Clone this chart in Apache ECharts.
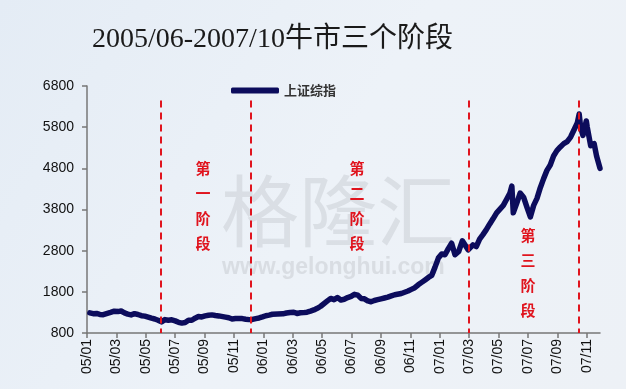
<!DOCTYPE html>
<html>
<head>
<meta charset="utf-8">
<script src="https://cdn.jsdelivr.net/npm/echarts@6/dist/echarts.min.js"></script>
<style>
html,body{margin:0;padding:0;}
#chart{width:626px;height:389px;}
</style>
</head>
<body>
<div id="chart"></div>
<script>
// ---- data ----
const titleText = '2005/06-2007/10牛市三个阶段';
const seriesName = '上证综指';
const monthTickLabels = ['05/01','05/03','05/05','05/07','05/09','05/11','06/01','06/03','06/05','06/07','06/09','06/11','07/01','07/03','07/05','07/07','07/09','07/11'];
const yMin = 800, yMax = 6800, yStep = 1000;
const phaseBoundaries = ['2005-06-01','2005-12-06','2007-03-01','2007-10-16'];
const phaseNames = ['第一阶段','第二阶段','第三阶段'];

const tradeDates = [
 '2005-01-07','2005-01-14','2005-01-21','2005-01-28','2005-02-04','2005-02-18','2005-02-25','2005-03-04','2005-03-11','2005-03-18','2005-03-25','2005-04-01','2005-04-08','2005-04-15','2005-04-22','2005-04-29','2005-05-13','2005-05-20','2005-05-27','2005-06-03','2005-06-10','2005-06-17','2005-06-24','2005-07-01','2005-07-08','2005-07-15','2005-07-22','2005-07-29','2005-08-05','2005-08-12','2005-08-19','2005-08-26','2005-09-02','2005-09-09','2005-09-16','2005-09-23','2005-09-30','2005-10-14','2005-10-21','2005-10-28','2005-11-04','2005-11-11','2005-11-18','2005-11-25','2005-12-02','2005-12-09','2005-12-16','2005-12-23','2005-12-30',
 '2006-01-06','2006-01-13','2006-01-20','2006-02-10','2006-02-17','2006-02-24','2006-03-03','2006-03-10','2006-03-17','2006-03-24','2006-03-31','2006-04-07','2006-04-14','2006-04-21','2006-04-28','2006-05-12','2006-05-19','2006-05-26','2006-06-02','2006-06-09','2006-06-16','2006-06-23','2006-06-30','2006-07-07','2006-07-14','2006-07-21','2006-07-28','2006-08-04','2006-08-11','2006-08-18','2006-08-25','2006-09-01','2006-09-08','2006-09-15','2006-09-22','2006-09-29','2006-10-13','2006-10-20','2006-10-27','2006-11-03','2006-11-10','2006-11-17','2006-11-24','2006-12-01','2006-12-08','2006-12-15','2006-12-22','2006-12-29',
 '2007-01-05','2007-01-12','2007-01-19','2007-01-26','2007-02-02','2007-02-09','2007-02-16','2007-02-27','2007-03-02','2007-03-09','2007-03-16','2007-03-23','2007-03-30','2007-04-06','2007-04-13','2007-04-20','2007-04-27','2007-05-11','2007-05-18','2007-05-25','2007-05-29','2007-06-01','2007-06-08','2007-06-15','2007-06-22','2007-06-29','2007-07-06','2007-07-13','2007-07-20','2007-07-27','2007-08-03','2007-08-10','2007-08-17','2007-08-24','2007-08-31','2007-09-07','2007-09-14','2007-09-21','2007-09-28','2007-10-12','2007-10-16','2007-10-19','2007-10-24','2007-10-31','2007-11-02','2007-11-09','2007-11-16','2007-11-21','2007-11-28'
];
const closes = [
 1290,1270,1275,1250,1245,1300,1330,1320,1335,1290,1260,1240,1270,1250,1220,1210,1160,1140,1110,1070,1125,1110,1120,1095,1060,1040,1055,1110,1110,1160,1200,1190,1215,1230,1240,1225,1215,1185,1170,1140,1150,1150,1150,1135,1125,1130,1150,1165,1190,
 1220,1235,1255,1265,1285,1300,1305,1275,1290,1295,1305,1330,1360,1400,1450,1580,1640,1610,1660,1600,1620,1660,1690,1740,1720,1640,1630,1580,1560,1590,1610,1630,1650,1670,1700,1730,1760,1790,1820,1860,1900,1970,2030,2090,2150,2200,2400,2620,
 2720,2700,2850,2980,2700,2780,3040,2820,2860,2940,2900,3080,3190,3310,3450,3580,3720,3900,4050,4200,4370,3720,3950,4200,4100,3850,3620,3900,4070,4330,4550,4750,4880,5100,5230,5320,5400,5450,5560,5900,6120,5800,5600,5950,5800,5350,5400,5100,4800
];

// ---- helpers ----
function toMonthIndex(s){
  const p = s.split('-').map(Number);
  const dim = new Date(p[0], p[1], 0).getDate();
  return (p[0]-2005)*12 + (p[1]-1) + (p[2]-1)/dim;
}
const lineData = tradeDates.map((d,i)=>[toMonthIndex(d), closes[i]]);
const tickValues = monthTickLabels.map((_,i)=>i*2);
const boundaryLines = phaseBoundaries.map(d=>{
  const m = toMonthIndex(d);
  return [{coord:[m, 6450]},{coord:[m, yMin]}];
});

const chart = echarts.init(document.getElementById('chart'), null, {renderer:'canvas'});
const phaseStyle = {fill:'#e0141e', font:'bold 15px "Noto Sans CJK SC"', textAlign:'center', lineHeight:25};
const option = {
  backgroundColor: new echarts.graphic.LinearGradient(0,0,1,1,[{offset:0,color:'#e4ecf5'},{offset:0.5,color:'#edf2f8'},{offset:1,color:'#edf1f6'}]),
  animation:false,
  title:{
    text:titleText, left:87, top:21,
    textStyle:{fontFamily:'"Liberation Serif","Noto Sans CJK SC",serif', fontSize:28, fontWeight:'normal', color:'#1a1a1a'}
  },
  legend:{
    left:226, top:79, itemWidth:48, itemHeight:6, icon:'roundRect', itemGap:4,
    textStyle:{fontFamily:'"Noto Sans CJK SC"', fontSize:13, fontWeight:'bold', color:'#333'},
    data:[seriesName]
  },
  grid:{left:87, right:26, top:86, bottom:56, containLabel:false},
  xAxis:{
    type:'value', min:0, max:34.9,
    axisLine:{lineStyle:{color:'#777', width:1.5}},
    axisTick:{customValues:tickValues, length:5, lineStyle:{color:'#777', width:1.5}},
    axisLabel:{customValues:tickValues, rotate:90, margin:6, fontFamily:'"Liberation Sans",Arial', fontSize:14, color:'#111',
      formatter:v=>monthTickLabels[Math.round(v/2)] || ''},
    splitLine:{show:false}
  },
  yAxis:{
    type:'value', min:yMin, max:yMax, interval:yStep,
    axisLine:{show:true, lineStyle:{color:'#777', width:1.5}},
    axisTick:{show:true, length:5, lineStyle:{color:'#777', width:1.5}},
    axisLabel:{margin:13, fontFamily:'"Liberation Sans",Arial', fontSize:14, color:'#111', formatter:v=>String(v)},
    splitLine:{show:false}
  },
  graphic:[
    {type:'text', left:221, top:172, z:-1, silent:true, style:{text:'格隆汇', fill:'rgba(200,204,210,0.5)', font:'78px "Noto Sans CJK SC"'}},
    {type:'text', left:222, top:256, z:-1, silent:true, style:{text:'www.gelonghui.com', fill:'rgba(200,204,210,0.55)', font:'bold 23px "Liberation Sans"'}},
    {type:'text', x:203, y:156, style:Object.assign({text:phaseNames[0].split('').join('\n')}, phaseStyle)},
    {type:'text', x:357, y:156, style:Object.assign({text:phaseNames[1].split('').join('\n')}, phaseStyle)},
    {type:'text', x:528, y:223, style:Object.assign({text:phaseNames[2].split('').join('\n')}, phaseStyle)}
  ],
  series:[{
    name:seriesName, type:'line', data:lineData, showSymbol:false, smooth:false,
    lineStyle:{color:'#0c0c5c', width:5.5, join:'round', cap:'round'},
    itemStyle:{color:'#0c0c5c'},
    markLine:{
      silent:true, symbol:'none', label:{show:false},
      lineStyle:{color:'#e0141e', type:[7,5], width:2},
      data:boundaryLines
    }
  }]
};
chart.setOption(option);
</script>
</body>
</html>
